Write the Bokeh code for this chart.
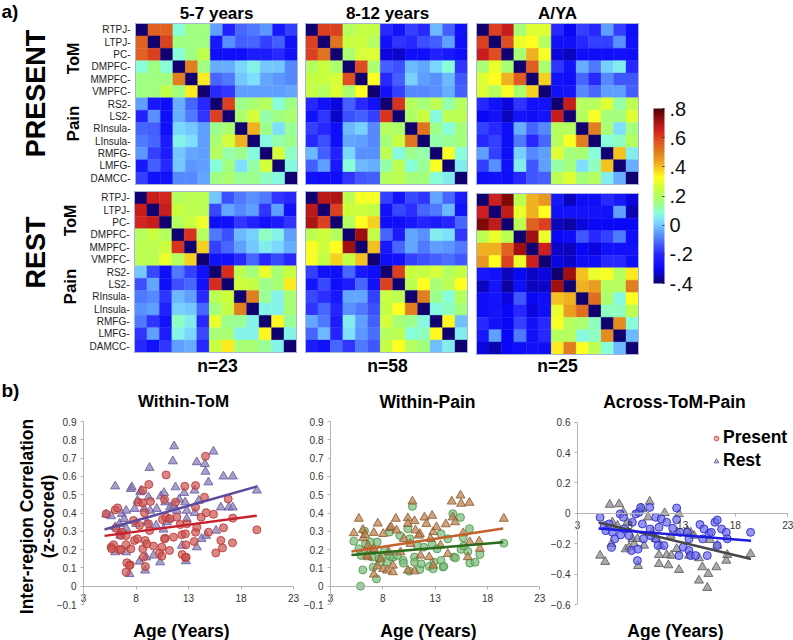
from bokeh.embed import file_html
from bokeh.layouts import column, row
from bokeh.models import (ColorBar, ColumnDataSource, FixedTicker, Label, Legend,
                          LegendItem, LinearColorMapper, Range1d)
from bokeh.plotting import figure
from bokeh.resources import INLINE

regions = ["RTPJ-", "LTPJ-", "PC-", "DMPFC-", "MMPFC-", "VMPFC-", "RS2-", "LS2-",
           "RInsula-", "LInsula-", "RMFG-", "LMFG-", "DAMCC-"]
diagonal_value = -0.4

# Upper triangles of the matrices (row by row, diagonal excluded)
present_5_7 = [
    [.55, .55, .08, .15, .15, -.05, -.22, -.12, -.10, -.06, -.25, -.17],
    [.60, .15, .15, .15, -.25, -.07, -.13, -.12, -.17, -.13, -.27],
    [.08, .15, .23, -.28, -.28, -.28, -.24, -.24, -.20, -.27],
    [.50, .15, -.03, -.03, .02, .06, 0, 0, -.08],
    [.35, -.12, -.10, 0, .03, -.04, -.06, -.08],
    [-.20, -.18, -.05, -.05, -.05, -.05, -.04],
    [.60, .14, .18, .20, .08, .15],
    [.18, .27, .12, .15, .18],
    [.42, .14, .03, .13],
    [.07, .12, .14],
    [.27, .10],
    [.07],
]
present_8_12 = [
    [.60, .60, .20, .24, .24, -.20, -.27, -.17, -.20, -.02, -.13, -.27],
    [.52, .25, .25, .20, -.27, -.18, -.20, -.15, -.13, -.05, -.28],
    [.18, .27, .28, -.32, -.33, -.28, -.28, -.22, -.25, -.28],
    [.58, .18, -.13, -.15, -.02, -.04, .02, .08, -.18],
    [.33, -.20, -.13, .01, -.05, -.07, -.02, -.14],
    [-.27, -.17, -.08, -.08, -.07, -.03, -.13],
    [.62, .20, .16, .22, .12, .20],
    [.19, .25, .07, .22, .22],
    [.52, .14, .08, .16],
    [.12, .13, .16],
    [.32, .08],
    [.05],
]
present_aya = [
    [.60, .66, .17, .28, .28, -.20, -.30, -.17, -.20, -.05, -.17, -.28],
    [.58, .30, .33, .20, -.27, -.27, -.20, -.17, -.17, -.07, -.27],
    [.17, .42, .32, -.32, -.34, -.28, -.28, -.28, -.27, -.28],
    [.56, .18, -.18, -.26, -.03, -.10, .01, .05, -.20],
    [.38, -.27, -.28, -.12, -.20, -.08, -.14, -.14],
    [-.27, -.26, -.08, -.12, -.05, -.05, -.13],
    [.66, .20, .20, .28, .12, .22],
    [.20, .32, .16, .16, .28],
    [.50, .17, .03, .16],
    [.08, .10, .20],
    [.40, .05],
    [-.03],
]
rest_5_7 = [
    [.66, .64, .20, .22, .22, 0, -.15, -.10, -.07, -.10, -.18, -.20],
    [.66, .25, .22, .22, -.16, -.04, -.08, -.05, -.18, -.05, -.27],
    [.20, .25, .30, -.28, -.28, -.18, -.22, -.27, -.24, -.18],
    [.62, .20, -.10, -.15, -.02, .01, .10, .06, -.05],
    [.38, -.17, -.12, -.05, 0, .05, .02, -.03],
    [-.27, -.27, -.20, -.12, -.20, -.16, -.20],
    [.63, .22, .16, .30, .17, .25],
    [.26, .24, .14, .17, .35],
    [.50, .13, .06, .17],
    [.06, .06, .17],
    [.34, .13],
    [.06],
]
rest_8_12 = [
    [.68, .70, .22, .32, .32, -.17, -.26, -.16, -.18, -.04, -.12, -.24],
    [.60, .26, .26, .24, -.27, -.16, -.19, -.12, -.10, -.02, -.27],
    [.20, .33, .38, -.28, -.28, -.25, -.21, -.24, -.21, -.12],
    [.72, .24, -.12, -.24, -.04, -.07, .05, .03, -.18],
    [.40, -.25, -.12, -.04, -.10, -.05, -.06, -.10],
    [-.28, -.27, -.17, -.15, -.13, -.11, -.14],
    [.60, .25, .24, .27, .20, .24],
    [.22, .33, .17, .22, .33],
    [.50, .14, .08, .20],
    [.07, .10, .16],
    [.34, -.01],
    [.05],
]
rest_aya = [
    [.65, .75, .22, .42, .46, -.25, -.34, -.28, -.28, -.20, -.25, -.32],
    [.67, .30, .42, .33, -.27, -.26, -.26, -.26, -.27, -.05, -.35],
    [.22, .55, .60, -.34, -.36, -.32, -.30, -.30, -.30, -.30],
    [.72, .30, -.30, -.28, -.14, -.20, -.17, -.10, -.28],
    [.65, -.33, -.34, -.30, -.32, -.27, -.27, -.27],
    [-.32, -.33, -.28, -.28, -.20, -.20, -.28],
    [.72, .40, .30, .32, .20, .35],
    [.42, .45, .20, .20, .50],
    [.53, .18, .07, .33],
    [.10, .10, .22],
    [.48, .08],
    [-.02],
]
colorbar_ticks = [-.4, -.2, 0, .2, .4, .6, .8]
colorbar_labels = ["-.4", "-.2", "0", ".2", ".4", ".6", ".8"]

tom_present_age = [5.16,6.02,6.24,5.63,5.86,5.7,6.43,6.59,6.08,6.65,6.56,7.06,7.13,7.06,7.44,7.38,7.51,7.06,7.76,7.86,8.14,8.33,8.24,8.65,8.65,8.65,8.71,8.87,9.03,8.9,8.81,9.19,9.22,9.38,9.29,9.67,10.24,10.46,10.46,10.52,10.78,10.71,10.87,10.71,10.84,11.25,11.19,11.57,11.76,11.89,12.21,12.37,12.4,12.71,12.71,12.65,12.75,12.78,12.84,13.54,13.67,13.67,13.67,13.79,14.21,14.52,14.68,14.62,14.9,15.38,15.6,16.33,16.08,16.24,16.78,17.19,17.22,19.51]
tom_present_val = [.395,.417,.428,.213,.226,.204,.2,.2,.317,.295,.277,.226,.128,.077,.117,.113,.204,.277,.359,.25,.259,.332,.459,.455,.523,.204,.158,.25,.231,.107,.401,.341,.556,.463,.304,.219,.182,.213,.164,.364,.262,.474,.608,.259,.377,.368,.195,.268,.459,.377,.337,.281,.173,.157,.286,.546,.226,.158,.341,.244,.55,.432,.295,.322,.377,.486,.401,.71,.295,.393,.182,.319,.25,.209,.477,.237,.372,.308]
tom_rest_age = [5.16,5.63,6.02,6.02,6.43,6.65,6.43,6.87,7.06,7.06,7.06,7.38,7.51,7.6,6.02,6.49,7.86,8.02,8.14,8.4,8.49,8.33,8.78,8.87,8.97,9.19,9.29,9.35,9.67,9.92,10.3,10.37,10.68,10.62,10.78,11.1,11.25,11.63,11.51,11.76,11.57,12.11,12.37,12.59,12.68,12.75,12.84,13.57,13.6,13.79,13.79,13.98,14.24,14.56,14.62,14.68,14.9,15.38,15.63,16.33,16.08,16.84,17.22,17.22,19.51,10.94,12.84,11.89,9.03,9.98]
tom_rest_val = [.393,.383,.546,.323,.341,.395,.295,.368,.413,.186,.317,.067,.532,.541,.186,.277,.423,.341,.468,.514,.523,.135,.423,.086,.158,.486,.647,.413,.168,.332,.131,.492,.51,.31,.459,.368,.432,.765,.683,.541,.441,.474,.222,.51,.459,.137,.413,.523,.401,.213,.678,.468,.259,.668,.626,.276,.568,.736,.304,.6,.431,.431,.6,.431,.523,.35,.368,.413,.35,.423]
tom_present_fit_age, tom_present_fit_val = [5.0, 19.5], [.275, .385]
tom_rest_fit_age, tom_rest_fit_val = [5.0, 19.5], [.31, .545]

pain_present_age = [5.23,5.71,5.87,6.09,6.25,5.93,6.34,6.57,7.08,6.82,7.14,7.39,7.46,7.59,7.78,8.16,8.41,8.64,8.73,8.99,9.62,9.94,9.97,10.39,10.52,10.58,10.83,11.03,11.03,11.54,11.66,11.92,12.43,12.71,12.81,12.87,13.57,13.57,13.76,13.83,14.21,14.69,14.78,14.94,15.42,15.48,15.68,16.28,16.12,16.31,16.82,17.27,19.56,15.74,13.19,11.28,9.37,7.94,6.98]
pain_present_val = [.246,.204,0,.089,.301,.168,.232,.195,.104,.241,.195,.04,.241,.15,.131,.195,.131,.296,.162,.159,.277,.141,.126,.314,.082,.259,.436,.159,.131,.091,.122,.213,.108,.232,.095,.131,.286,.141,.105,.108,.259,.396,.159,.155,.376,.201,.265,.314,.19,.126,.131,.173,.235,.22,.204,.223,.168,.168,.159]
pain_rest_age = [5.23,5.71,6.09,6.12,6.31,6.57,6.57,7.14,7.14,7.46,7.52,7.78,8.03,8.03,8.41,8.67,8.8,8.96,8.96,9.31,9.24,10.01,10.39,10.39,10.39,10.83,11.03,11.03,11.12,11.54,11.6,11.98,12.17,12.43,12.71,12.81,12.81,13.13,13.51,14.02,14.21,14.59,14.69,14.91,15.42,15.48,15.68,16.28,16.12,16.31,17.2,17.27,19.56,12.55,11.44,10.64,9.69,8.57,7.14,6.5]
pain_rest_val = [.29,.369,.308,.263,.281,.223,.159,.292,.064,.109,.343,.15,.286,.095,.086,.318,.323,.077,.113,.305,.369,.259,.372,.341,.086,.463,.356,.082,.305,.286,.168,.376,.341,.159,.385,.296,.113,.323,.223,.339,.177,.463,.376,.35,.496,.451,.29,.456,.159,.241,.245,.205,.369,.259,.277,.232,.186,.186,.204,.168]
pain_present_fit_age, pain_present_fit_val = [5.0, 19.5], [.17, .24]
pain_rest_fit_age, pain_rest_fit_val = [5.0, 19.5], [.19, .315]

across_present_age = [5.15,5.53,5.69,6.01,6.23,6.32,6.54,7.05,7.11,7.37,7.43,7.91,8.13,8.54,8.7,8.76,8.85,9.01,9.17,9.27,9.87,9.9,10.44,10.44,10.66,10.75,10.97,11.23,11.48,12.05,12.43,12.43,12.65,12.75,13.06,13.6,13.6,13.76,14.23,14.65,14.9,15.34,15.5,15.72,16.07,16.29,16.29,16.7,17.15,17.24,19.46,15.03,13.44,9.96,8.22]
across_present_val = [-.026,-.081,-.114,-.07,-.223,-.125,-.168,-.004,-.142,-.026,-.103,-.147,-.245,-.004,-.311,-.235,.007,.039,-.07,-.168,.039,-.103,-.026,-.168,-.212,-.092,-.037,-.212,-.059,-.098,.035,-.042,-.278,-.125,-.223,-.245,-.168,-.278,-.278,-.074,-.168,-.278,-.131,-.125,-.059,-.044,-.212,-.103,-.125,-.168,-.125,-.103,-.125,-.147,-.059]
across_rest_age = [5.15,5.63,6.07,6.96,6.23,6.32,7.37,7.59,7.91,8.22,8.38,8.76,9.01,9.17,9.33,9.71,9.87,10.44,10.75,10.75,11.29,11.64,11.48,11.92,12.43,12.65,12.65,13.44,13.76,14.08,14.55,14.55,14.87,15.34,15.44,15.59,16.2,16.29,17.15,17.24,19.46,12.49,13.6,10.91,6.8,7.75,8.7,11.86,10.12]
across_rest_val = [-.278,-.319,.057,.061,-.201,-.059,.007,-.236,-.223,-.168,-.201,-.346,.033,.028,-.212,-.026,.077,-.168,-.273,-.333,.002,-.341,-.274,-.278,-.234,-.372,-.004,-.114,-.125,-.147,-.295,-.442,-.354,-.49,-.398,-.175,-.354,-.212,-.311,-.273,-.267,-.125,-.278,-.212,-.081,-.059,-.168,-.147,-.125]
across_present_fit_age, across_present_fit_val = [5.0, 19.5], [-.10, -.18]
across_rest_fit_age, across_rest_fit_val = [5.0, 19.5], [-.06, -.30]

age_ticks = [3, 8, 13, 18, 23]
pain_ticks = [-.1, 0, .1, .2, .3, .4, .5, .6, .7, .8, .9]
across_ticks = [-.6, -.4, -.2, 0, .2, .4, .6]

scale_values = [-.4, -.3, -.2, -.12, -.05, .03, .08, .15, .25, .33, .42, .5, .58, .65, .72, .8]
scale_colors = ["#100070", "#0808f8", "#2828ff", "#4868ff", "#60a0ff", "#80e0ff", "#88ffd8",
                "#a0ff80", "#c8ff40", "#ffff20", "#f0b020", "#e08020", "#e05020", "#d02020",
                "#a01010", "#500000"]

FONT = "Liberation Sans"
PLACES = {}


def build_palette(n=256):
    out = []
    for k in range(n):
        v = -.4 + 1.2 * k / (n - 1)
        i = 0
        while i < len(scale_values) - 2 and v > scale_values[i + 1]:
            i += 1
        t = (v - scale_values[i]) / (scale_values[i + 1] - scale_values[i])
        a, b = scale_colors[i], scale_colors[i + 1]
        rgb = [int(a[c:c + 2], 16) * (1 - t) + int(b[c:c + 2], 16) * t for c in (1, 3, 5)]
        out.append("#%02x%02x%02x" % tuple(int(round(x)) for x in rgb))
    return out


mapper = LinearColorMapper(palette=build_palette(), low=-.4, high=.8)


def canvas(ox, oy, w, h, x_low, x_high, px_left, px_right, y_low, y_high, px_bottom, px_top):
    """A figure whose frame fills the canvas; the ranges put x_low..x_high at px_left..px_right
    and y_low..y_high at px_bottom..px_top on the page."""
    ux = (x_high - x_low) / (px_right - px_left)
    uy = (y_high - y_low) / (px_bottom - px_top)
    p = figure(width=w, height=h, toolbar_location=None, output_backend="svg", tools="",
               x_range=Range1d(x_low - (px_left - ox) * ux, x_high + (ox + w - px_right) * ux),
               y_range=Range1d(y_low - (oy + h - px_bottom) * uy, y_high + (px_top - oy) * uy),
               min_border=0, min_border_left=0, min_border_right=0, min_border_top=0,
               min_border_bottom=0)
    p.grid.visible = False
    p.outline_line_color = None
    PLACES[id(p)] = (ox, oy, h)
    return p


def text(p, s, x, y, size, bold=True, angle=0, align="center"):
    ox, oy, h = PLACES[id(p)]
    p.add_layout(Label(x=x - ox, y=h - (y - oy), x_units="screen", y_units="screen", text=s,
                       text_font=FONT, text_font_size=f"{size}px",
                       text_font_style="bold" if bold else "normal", text_color="#000000",
                       text_align=align, text_baseline="middle", angle=angle, angle_units="deg"))


def heat_source(tri):
    n = len(regions)
    xs, ys, vs = [], [], []
    for i in range(n):
        for j in range(n):
            if i == j:
                v = diagonal_value
            elif j > i:
                v = tri[i][j - i - 1]
            else:
                v = tri[j][i - j - 1]
            xs.append(j + .5); ys.append(i + .5); vs.append(v)
    return ColumnDataSource(dict(x=xs, y=ys, v=vs))


def heat(tri, ox, oy, w, h, left, right, bottom, top, labels=False):
    n = len(regions)
    p = canvas(ox, oy, w, h, 0, n, left, right, n, 0, bottom, top)
    p.rect(x="x", y="y", width=1, height=1, source=heat_source(tri),
           fill_color={"field": "v", "transform": mapper},
           line_color={"field": "v", "transform": mapper}, line_width=0.4)
    p.rect(x=[n / 2], y=[n / 2], width=n, height=n, fill_color=None,
           line_color="#a8b4d8", line_width=1)
    p.xaxis.visible = False
    ax = p.yaxis[0]
    if labels:
        ax.fixed_location = 0
        ax.ticker = FixedTicker(ticks=[i + .5 for i in range(n)])
        ax.major_label_overrides = {i + .5: regions[i] for i in range(n)}
        ax.axis_line_color = None
        ax.major_tick_line_color = None
        ax.minor_tick_line_color = None
        ax.major_tick_out = 0
        ax.major_tick_in = 0
        ax.major_label_standoff = 5
        ax.major_label_text_font = FONT
        ax.major_label_text_font_size = "10px"
        ax.major_label_text_color = "#222222"
    else:
        ax.visible = False
    return p


h1 = heat(present_5_7, 0, 0, 301, 187, 135, 297, 184, 23, True)
h2 = heat(present_8_12, 301, 0, 170, 187, 305, 467, 184, 23)
h3 = heat(present_aya, 471, 0, 172, 187, 476, 638, 184, 23)
h4 = heat(rest_5_7, 0, 187, 301, 188, 134, 296, 352, 191, True)
h5 = heat(rest_8_12, 301, 187, 170, 188, 305, 467, 352, 191)
h6 = heat(rest_aya, 471, 187, 172, 188, 476, 638, 354, 193)

text(h1, "a)", 1, 11, 19, align="left")
text(h1, "5-7 years", 216, 13, 17)
text(h2, "8-12 years", 387, 13, 17)
text(h3, "A/YA", 557, 13, 17)
text(h1, "PRESENT", 35, 93, 27, angle=90)
text(h1, "ToM", 73, 58, 16, angle=90)
text(h1, "Pain", 73, 123, 17, angle=90)
text(h4, "REST", 35, 252, 27, angle=90)
text(h4, "ToM", 70, 220, 16, angle=90)
text(h4, "Pain", 70, 286, 17, angle=90)
text(h4, "n=23", 217, 365, 17.5)
text(h5, "n=58", 387, 365, 17.5)
text(h6, "n=25", 557, 365, 17.5)

cb_fig = figure(width=150, height=375, toolbar_location=None, output_backend="svg", tools="",
                x_range=Range1d(0, 1), y_range=Range1d(-.4, .8), min_border=0, min_border_left=0,
                min_border_right=0, min_border_top=0, min_border_bottom=0)
cb_fig.xaxis.visible = False
cb_fig.yaxis.visible = False
cb_fig.grid.visible = False
cb_fig.outline_line_color = None
cb_fig.scatter([0.5], [0.2], size=0, alpha=0)
cb = ColorBar(color_mapper=mapper, ticker=FixedTicker(ticks=colorbar_ticks),
              major_label_overrides=dict(zip(colorbar_ticks, colorbar_labels)),
              width=11, height=175, padding=0, margin=0, location=(10, 92),
              major_label_text_font=FONT, major_label_text_font_size="20px",
              major_label_text_color="#111111", major_tick_line_color="#333333",
              major_tick_in=2, major_tick_out=0, minor_tick_line_color=None,
              label_standoff=5, bar_line_color=None)
cb_fig.add_layout(cb, "center")


def scatter_panel(ox, w, px_left, px_right, y_low, y_high, px_bottom, px_top, y_ticks):
    p = canvas(ox, 375, w, 265, 3, 23, px_left, px_right, y_low, y_high, px_bottom, px_top)
    for ax, ticks, bounds in ((p.xaxis[0], age_ticks, (3, 23)), (p.yaxis[0], y_ticks, (y_low, y_high))):
        ax.ticker = FixedTicker(ticks=ticks)
        ax.bounds = bounds
        ax.axis_line_color = "#b4b4b4"
        ax.major_tick_line_color = "#b4b4b4"
        ax.minor_tick_line_color = None
        ax.major_tick_in = 0
        ax.major_tick_out = 3
        ax.major_label_text_font = FONT
        ax.major_label_text_font_size = "10px"
        ax.major_label_text_color = "#333333"
    p.xaxis[0].fixed_location = 0
    p.yaxis[0].fixed_location = 3
    p.xaxis[0].major_label_standoff = 5
    p.yaxis[0].major_label_standoff = 4
    return p


def points(p, marker, xs, ys, fill, line, size):
    return p.scatter(xs, ys, marker=marker, size=size, fill_color=fill, fill_alpha=.7,
                     line_color=line, line_alpha=.85, line_width=1)


CIRC, TRI = 8, 9

s1 = scatter_panel(0, 300, 83, 293, -.1, .9, 604, 421, pain_ticks)
points(s1, "triangle", tom_rest_age, tom_rest_val, "#8278b0", "#6a5ca0", TRI)
points(s1, "circle", tom_present_age, tom_present_val, "#cc5450", "#bc3434", CIRC)
s1.line(tom_rest_fit_age, tom_rest_fit_val, line_color="#5c4a9c", line_width=2.5)
s1.line(tom_present_fit_age, tom_present_fit_val, line_color="#c8202c", line_width=2.5)
text(s1, "b)", 1, 390, 19, align="left")
text(s1, "Within-ToM", 183, 401, 17)
text(s1, "Inter-region Correlation", 26, 516, 17.5, angle=90)
text(s1, "(z-scored)", 47, 516, 17.5, angle=90)
text(s1, "Age (Years)", 181, 630, 17.5)

s2 = scatter_panel(300, 249, 330, 539.3, -.1, .9, 604, 421, pain_ticks)
points(s2, "circle", pain_present_age, pain_present_val, "#78ba78", "#4e964e", CIRC)
points(s2, "triangle", pain_rest_age, pain_rest_val, "#bc7c48", "#8c5c30", TRI)
s2.line(pain_present_fit_age, pain_present_fit_val, line_color="#2c6c1c", line_width=2.5)
s2.line(pain_rest_fit_age, pain_rest_fit_val, line_color="#c4622c", line_width=2.5)
text(s2, "Within-Pain", 427, 401, 17.5)
text(s2, "Age (Years)", 428, 630, 17.5)

s3 = scatter_panel(549, 244, 577, 787.3, -.6, .6, 604, 421.7, across_ticks)
points(s3, "triangle", across_rest_age, across_rest_val, "#888888", "#5c5c5c", TRI)
points(s3, "circle", across_present_age, across_present_val, "#6a6aec", "#2424c4", CIRC)
s3.line(across_rest_fit_age, across_rest_fit_val, line_color="#484848", line_width=2.5)
s3.line(across_present_fit_age, across_present_fit_val, line_color="#1c1ce0", line_width=2.5)
text(s3, "Across-ToM-Pain", 674, 401, 17.5)
text(s3, "Age (Years)", 675, 630, 17.5)
key_a = points(s3, "circle", [float("nan")], [float("nan")], "#e08a88", "#c04a48", CIRC)
key_b = points(s3, "triangle", [float("nan")], [float("nan")], "#a89cc8", "#6a5ca0", TRI)
legend = Legend(items=[LegendItem(label="Present", renderers=[key_a]),
                       LegendItem(label="Rest", renderers=[key_b])],
                location=(161, 169), orientation="vertical", border_line_color=None,
                background_fill_alpha=0, padding=0, margin=0, spacing=2, glyph_width=12,
                glyph_height=16, label_standoff=1, label_text_font=FONT,
                label_text_font_size="17.5px", label_text_font_style="bold",
                label_text_color="#000000", label_height=16)
s3.add_layout(legend, "center")

top_block = column(row(h1, h2, h3), row(h4, h5, h6), spacing=0)
root = column(row(top_block, cb_fig), row(s1, s2, s3))

open("out.html", "w").write(file_html(root, INLINE))
